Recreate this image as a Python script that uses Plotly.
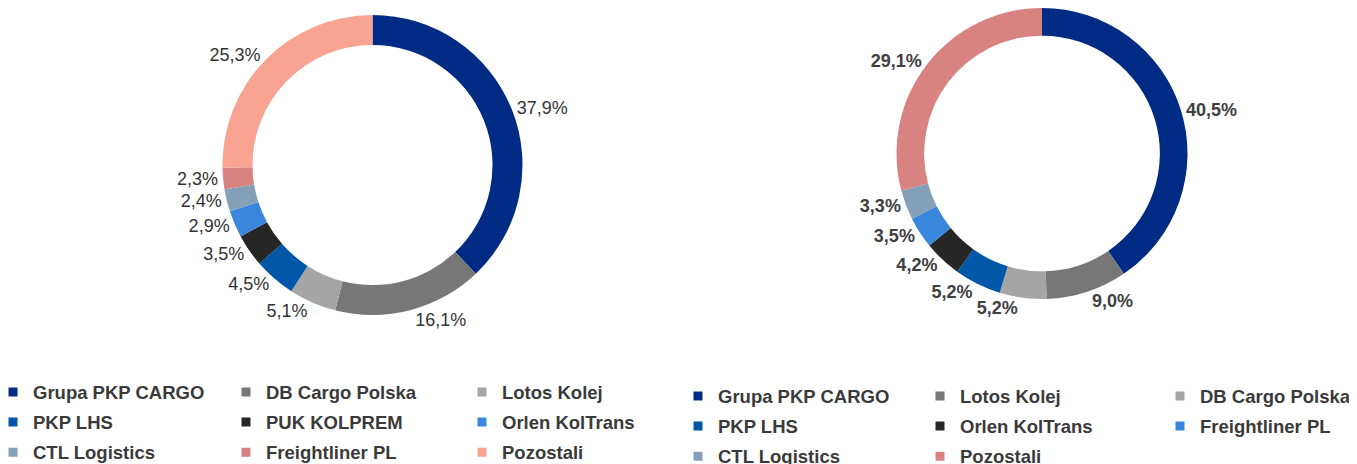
import plotly.graph_objects as go

# ---- data ----
left_labels = ["Grupa PKP CARGO", "DB Cargo Polska", "Lotos Kolej", "PKP LHS", "PUK KOLPREM",
               "Orlen KolTrans", "CTL Logistics", "Freightliner PL", "Pozostali"]
left_values = [37.9, 16.1, 5.1, 4.5, 3.5, 2.9, 2.4, 2.3, 25.3]
left_colors = ["#002B84", "#777777", "#A5A5A5", "#0057A8", "#262626",
               "#3A86DC", "#84A0B8", "#D98282", "#F9A392"]

right_labels = ["Grupa PKP CARGO", "Lotos Kolej", "DB Cargo Polska", "PKP LHS", "Orlen KolTrans",
                "Freightliner PL", "CTL Logistics", "Pozostali"]
right_values = [40.5, 9.0, 5.2, 5.2, 4.2, 3.5, 3.3, 29.1]
right_colors = ["#002B84", "#777777", "#A5A5A5", "#0057A8", "#262626",
                "#3A86DC", "#84A0B8", "#D98282"]

W, H = 1357, 464
OFF = 8  # page body margin in the browser
FONT = "Liberation Sans, Arial, sans-serif"


def px_x(v):
    return (v - OFF) / W


def px_y(v):
    return 1 - (v - OFF) / H


fig = go.Figure()

fig.add_trace(go.Pie(
    labels=left_labels, values=left_values, sort=False, direction="clockwise", rotation=0,
    hole=0.8, marker=dict(colors=left_colors, line=dict(width=0)),
    textposition="outside", texttemplate="%{value:.1f}%",
    textfont=dict(family=FONT, size=18, color="#333333"),
    domain=dict(x=[px_x(222.5), px_x(522.5)], y=[px_y(315), px_y(15)]),
    showlegend=False, hoverinfo="label+value",
))

# right donut: the DB Cargo label is drawn by a transparent twin so the two
# neighbouring 5,2% labels do not get pushed apart with a leader line
special = right_labels.index("DB Cargo Polska")
pos_main = ["none" if i == special else "outside" for i in range(len(right_labels))]
pos_twin = ["outside" if i == special else "none" for i in range(len(right_labels))]
right_dom = dict(x=[px_x(896.5), px_x(1187.5)], y=[px_y(8 + 291), 1.0])

fig.add_trace(go.Pie(
    labels=right_labels, values=right_values, sort=False, direction="clockwise", rotation=0,
    hole=0.81, marker=dict(colors=right_colors, line=dict(width=0)),
    textposition=pos_main, texttemplate="%{value:.1f}%",
    textfont=dict(family=FONT, size=18, color="#404040", weight="bold"),
    domain=right_dom, showlegend=False, hoverinfo="label+value",
))
fig.add_trace(go.Pie(
    labels=right_labels, values=right_values, sort=False, direction="clockwise", rotation=0,
    hole=0.81, marker=dict(colors=["rgba(0,0,0,0)"] * len(right_labels), line=dict(width=0)),
    textposition=pos_twin, texttemplate="%{value:.1f}%",
    textfont=dict(family=FONT, size=18, color="#404040", weight="bold"),
    domain=right_dom, showlegend=False, hoverinfo="skip",
))

# legends: three columns per donut, row-major order
left_cols_x = [-15, 218, 454]
right_cols_x = [670, 912, 1152]
legend_layouts = {}
lid = 0


def add_legend_block(labels, colors, cols_x, top_px, prefix):
    global lid
    for c in range(3):
        lid += 1
        name = "legend" if lid == 1 else f"legend{lid}"
        legend_layouts[name] = dict(
            x=cols_x[c] / W, xanchor="left", y=1 - top_px / H, yanchor="top",
            orientation="v", traceorder="grouped", tracegroupgap=3,
            bgcolor="rgba(0,0,0,0)", itemclick=False, itemdoubleclick=False,
            font=dict(family=FONT, size=18.5, color="#3A3A3A", weight="bold"),
        )
        for i in range(c, len(labels), 3):
            fig.add_trace(go.Scatter(
                x=[None], y=[None], mode="markers", name=labels[i],
                marker=dict(symbol="square", size=9, color=colors[i]),
                legend=name, legendgroup=f"{prefix}{i}", showlegend=True,
                hoverinfo="skip",
            ))


add_legend_block(left_labels, left_colors, left_cols_x, 365.5, "L")
add_legend_block(right_labels, right_colors, right_cols_x, 369.5, "R")

fig.update_layout(
    width=W, height=H,
    margin=dict(l=0, r=0, t=0, b=0, autoexpand=False),
    paper_bgcolor="white", plot_bgcolor="white",
    separators=", ",
    xaxis=dict(visible=False), yaxis=dict(visible=False),
    **legend_layouts,
)

fig.write_html("out.html")
